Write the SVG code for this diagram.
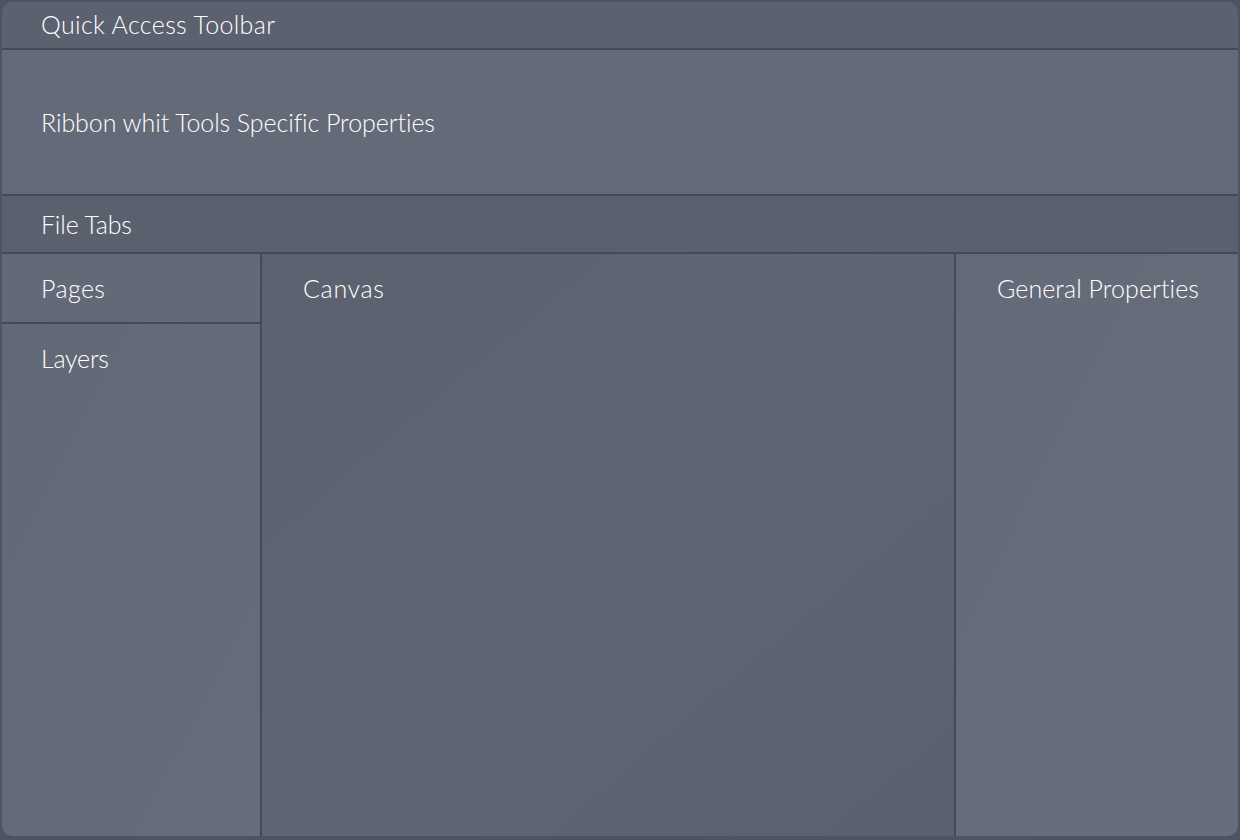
<svg xmlns="http://www.w3.org/2000/svg" width="1240" height="840" viewBox="0 0 1240 840">
<style>
.lbl{font-family:"Lato","Open Sans","Liberation Sans",sans-serif;font-size:25px;font-weight:300;fill:#ffffff;font-variant-ligatures:none}
.div{stroke:#454957;stroke-width:2}
</style>
<defs>
<clipPath id="frame"><rect x="2" y="2" width="1236" height="834" rx="10" ry="10"/></clipPath>
<linearGradient id="gL" x1="0" y1="0" x2="1" y2="1"><stop offset="0" stop-color="#636876"/><stop offset="1" stop-color="#676c7a"/></linearGradient>
<linearGradient id="gC" x1="0" y1="0" x2="1" y2="1"><stop offset="0" stop-color="#5c6170"/><stop offset="0.5" stop-color="#5f6573"/><stop offset="1" stop-color="#5b606e"/></linearGradient>
<linearGradient id="gR" x1="0" y1="0" x2="1" y2="1"><stop offset="0" stop-color="#656a78"/><stop offset="1" stop-color="#686d7b"/></linearGradient>
</defs>
<rect x="0" y="0" width="1240" height="840" fill="#4e5361"/>
<g clip-path="url(#frame)">
<g id="toolbar"><rect x="0" y="0" width="1240" height="49" fill="#5c6170"/><text class="lbl" x="41" y="34" textLength="234">Quick Access Toolbar</text></g>
<g id="ribbon"><rect x="0" y="49" width="1240" height="146" fill="#656a78"/><text class="lbl" x="41" y="132" textLength="394">Ribbon whit Tools Specific Properties</text></g>
<g id="filetabs"><rect x="0" y="195" width="1240" height="58" fill="#5b606e"/><text class="lbl" x="41" y="234" textLength="91">File Tabs</text></g>
<g id="pages"><rect x="0" y="253" width="261" height="70" fill="#646977"/><text class="lbl" x="41" y="298" textLength="64">Pages</text></g>
<g id="layers"><rect x="0" y="323" width="261" height="520" fill="url(#gL)"/><text class="lbl" x="41" y="368" textLength="68">Layers</text></g>
<g id="canvas"><rect x="261" y="253" width="694" height="590" fill="url(#gC)"/><text class="lbl" x="303" y="298" textLength="81">Canvas</text></g>
<g id="general"><rect x="955" y="253" width="290" height="590" fill="url(#gR)"/><text class="lbl" x="997" y="298" textLength="202">General Properties</text></g>
<g id="connectors">
<line class="div" x1="0" y1="49" x2="1240" y2="49"/>
<line class="div" x1="0" y1="195" x2="1240" y2="195"/>
<line class="div" x1="0" y1="253" x2="1240" y2="253"/>
<line class="div" x1="0" y1="323" x2="261" y2="323"/>
<line class="div" x1="261" y1="253" x2="261" y2="840"/>
<line class="div" x1="955" y1="253" x2="955" y2="840"/>
</g>
</g>
</svg>
